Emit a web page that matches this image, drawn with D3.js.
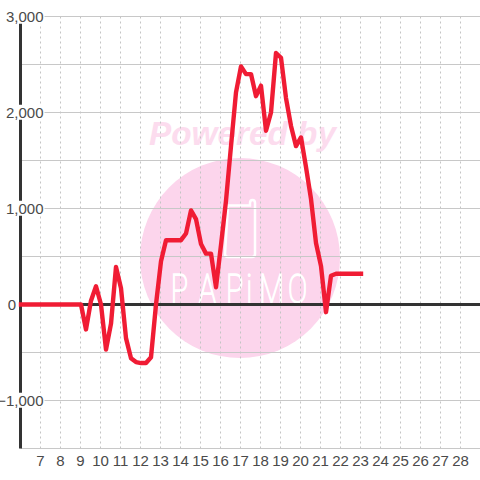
<!DOCTYPE html>
<html>
<head>
<meta charset="utf-8">
<script src="https://cdn.jsdelivr.net/npm/d3@7"></script>
<style>
  html, body { margin: 0; padding: 0; background: #fff; }
  svg { display: block; font-family: "Liberation Sans", Arial, sans-serif; }
</style>
</head>
<body>
<svg id="chart" width="480" height="480"></svg>
<script>
const hourTicks = [7, 8, 9, 10, 11, 12, 13, 14, 15, 16, 17, 18, 19, 20, 21, 22, 23, 24, 25, 26, 27, 28];
const valueLabels = [3000, 2000, 1000, 0, -1000];
const valueGrid = [3000, 2500, 2000, 1500, 1000, 500, -500, -1000, -1500];

// one reading every quarter of an hour, starting at 6:00
const startHour = 6;
const readings = [
  0, 0, 0, 0, 0, 0, 0, 0, 0, 0, 0, 0, 0,
  -260, 40, 190, 0, -470, -200, 390, 170, -350, -560, -600, -610, -610, -550, 0,
  450, 670, 670, 670, 670, 740, 980, 890, 630, 530, 530, 180, 620, 1080, 1650, 2210,
  2480, 2400, 2400, 2170, 2280, 1810, 2000, 2620, 2570, 2150, 1860, 1650, 1740,
  1430, 1100, 640, 400, -80, 300, 320, 320, 320, 320, 320, 320
];

const width = 480, height = 480;
const margin = { top: 16, right: 0, bottom: 32, left: 20.5 };

const svg = d3.select("#chart");

const x = d3.scaleLinear().domain([6, 29.5]).range([margin.left, margin.left + 470]);
const y = d3.scaleLinear().domain([3000, -1500]).range([margin.top + 0.5, height - margin.bottom + 0.5]);

// watermark
const logo = svg.append("g");
logo.append("circle").attr("cx", 240).attr("cy", 258).attr("r", 100).attr("fill", "#fcd5ec");
logo.append("text")
  .attr("x", 242.5).attr("y", 145)
  .attr("text-anchor", "middle")
  .attr("font-size", 33.3).attr("font-weight", "bold").attr("font-style", "italic")
  .attr("fill", "#fcdcee")
  .text("Powered by");
logo.append("path")
  .attr("d", "M228 205.5 H250 V203 Q250 200 252.5 200 Q255 200 255 203 V254 Q255 257 252 257 H228 Q225 257 225 254 Z")
  .attr("fill", "none").attr("stroke", "#fff").attr("stroke-width", 2.5);
// squeezed sideways, the logo lettering is much narrower than any installed font
logo.append("text")
  .attr("transform", "scale(0.72,1)")
  .attr("x", "237 276 314 342 360 400").attr("y", 303)
  .attr("font-family", "Roboto")
  .attr("font-weight", 100)
  .attr("font-size", 40)
  .attr("fill", "#fff")
  .attr("stroke", "#fff").attr("stroke-width", 1.6)
  .text("PAPiMO");

// grid
svg.append("g")
  .attr("transform", `translate(0,${height - margin.bottom + 0.5})`)
  .call(d3.axisBottom(x).offset(0).tickValues(hourTicks).tickSize(-(height - margin.top - margin.bottom)).tickFormat(""))
  .call((g) => g.select(".domain").remove())
  .call((g) => g.selectAll("line").attr("stroke", "#c4c4c4").attr("stroke-dasharray", "2,3"));

svg.append("g")
  .attr("transform", `translate(${margin.left},0)`)
  .call(d3.axisRight(y).offset(0).tickValues(valueGrid).tickSize(width - margin.left).tickFormat(""))
  .call((g) => g.select(".domain").remove())
  .call((g) => g.selectAll("line").attr("stroke", "#c8c8c8").attr("stroke-width", 1));

// axes
svg.append("line")
  .attr("x1", margin.left).attr("x2", margin.left)
  .attr("y1", y(3000)).attr("y2", y(-1500))
  .attr("stroke", "#333").attr("stroke-width", 3);
svg.append("line")
  .attr("x1", margin.left).attr("x2", width)
  .attr("y1", y(0)).attr("y2", y(0))
  .attr("stroke", "#333").attr("stroke-width", 3);

// value labels sit on a white patch that cuts the axis and the grid
const yLabels = svg.append("g")
  .selectAll("g")
  .data(valueLabels)
  .join("g");
yLabels.append("rect");
yLabels.append("text")
  .attr("x", (d) => (d === 0 ? 16 : 43.5))
  .attr("y", (d) => y(d))
  .attr("dy", "0.35em")
  .attr("text-anchor", "end")
  .attr("font-size", 15)
  .attr("fill", "#4a4a4a")
  .text((d) => d3.format(",")(d));
yLabels.each(function () {
  const box = d3.select(this).select("text").node().getBBox();
  d3.select(this).select("rect")
    .attr("x", box.x).attr("y", box.y + 1)
    .attr("width", box.width + 1).attr("height", box.height - 2)
    .attr("fill", "#fff");
});

svg.append("g")
  .selectAll("text")
  .data(hourTicks)
  .join("text")
  .attr("x", (d) => x(d))
  .attr("y", 466)
  .attr("text-anchor", "middle")
  .attr("font-size", 15)
  .attr("fill", "#4a4a4a")
  .text((d) => d);

// series
const line = d3.line()
  .x((d, i) => x(startHour + i / 4) + 0.5)
  .y((d) => y(d));

svg.append("path")
  .datum(readings)
  .attr("d", line)
  .attr("fill", "none")
  .attr("stroke", "#f01c34")
  .attr("stroke-width", 4.4)
  .attr("stroke-linecap", "square")
  .attr("stroke-linejoin", "round");
</script>
</body>
</html>
